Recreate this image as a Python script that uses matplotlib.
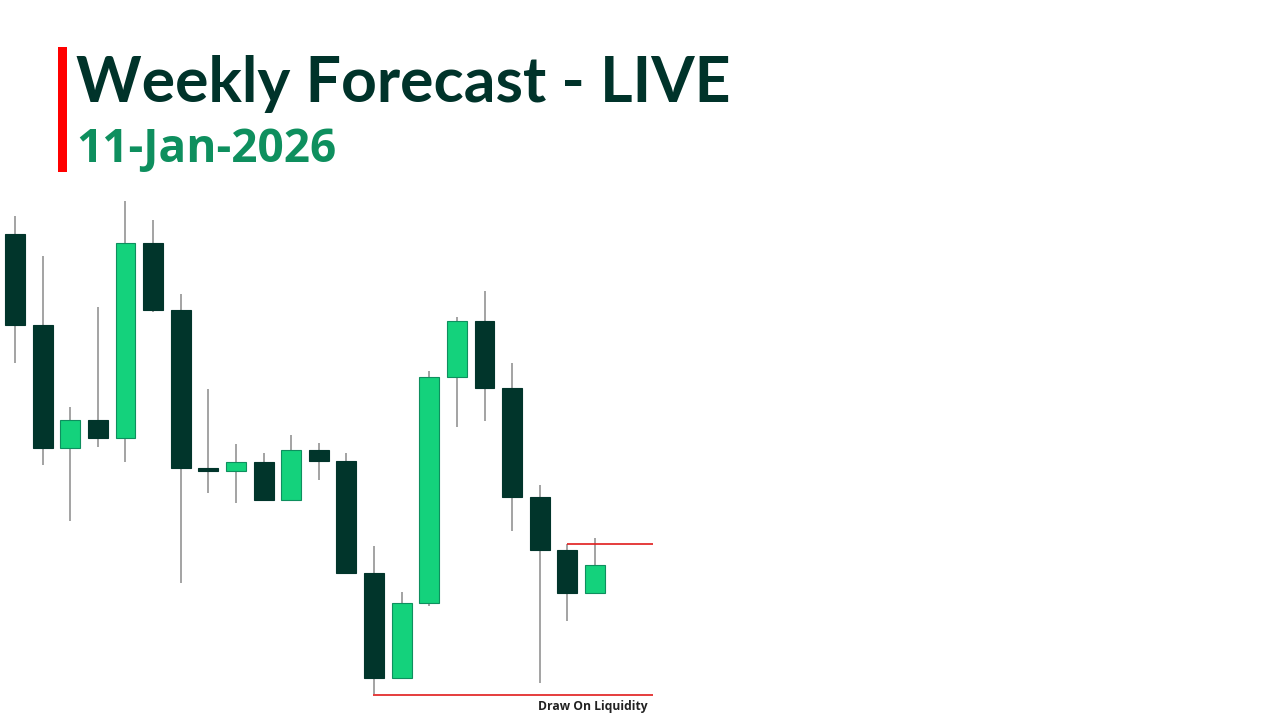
import matplotlib
matplotlib.use("Agg")
import matplotlib.pyplot as plt
from matplotlib.patches import Rectangle

# weekly candles, price in arbitrary chart units
opens  = [486, 395, 272, 300, 282, 477, 410, 251.5, 249, 258, 220, 270, 259, 147, 42, 117, 343, 399, 332, 223, 170, 127]
highs  = [504, 464, 313, 413, 519, 500, 426, 331, 276, 267, 285, 277, 267, 174, 128, 349, 403, 429, 357, 235, 176, 182]
lows   = [357, 255, 199, 273, 258, 408, 137, 227, 217, 219, 219, 240, 147, 26, 41, 114, 293, 299, 189, 37, 99, 127]
closes = [395, 272, 300, 282, 477, 410, 252, 249.5, 258, 220, 270, 259, 147, 42, 117, 343, 399, 332, 223, 170, 127, 155]

sweep_high = 176      # red line above the last candles
liquidity_low = 25    # red line under the lows, "Draw On Liquidity"

dark = "#01352b"
green = "#14d27c"
green_edge = "#0e8f5e"

fig = plt.figure(figsize=(12.8, 7.2), dpi=100)
ax = fig.add_axes([0, 0, 1, 1])
ax.set_xlim(-0.543, 45.8)
ax.set_ylim(0, 720)
ax.axis("off")

width = 0.72
for i, (o, h, l, c) in enumerate(zip(opens, highs, lows, closes)):
    up = c > o
    ax.vlines(i, l, h, color="#8a8a8a", linewidth=1.1, zorder=1)
    lo, hi = min(o, c), max(o, c)
    body = Rectangle((i - width / 2, lo), width, max(hi - lo, 2.5),
                     facecolor=green if up else dark,
                     edgecolor=green_edge if up else dark,
                     linewidth=0.8, zorder=2)
    ax.add_patch(body)

ax.hlines(sweep_high, 20, 23.1, color="#e01b1b", linewidth=1.2, zorder=3)
ax.hlines(liquidity_low, 13 - 0.03, 23.1, color="#e01b1b", linewidth=1.2, zorder=3)
ax.text(22.9, liquidity_low - 5, "Draw On Liquidity", ha="right", va="top",
        fontsize=8.7, fontweight="bold", family="Open Sans", color="#222222")

# header
fig.add_artist(Rectangle((58 / 1280, 1 - 172 / 720), 9 / 1280, 125 / 720,
                         transform=fig.transFigure, facecolor="#ff0000", edgecolor="none"))
fig.text(76 / 1280, 1 - 102 / 720, "Weekly Forecast - LIVE", ha="left", va="baseline",
         fontsize=45, fontweight="bold", family="Lato", color="#00332a")
fig.text(76 / 1280, 1 - 162 / 720, "11-Jan-2026", ha="left", va="baseline",
         fontsize=33, fontweight="bold", family="Open Sans", color="#0e8f5e")

fig.savefig("out.png", dpi=100, facecolor="white")
